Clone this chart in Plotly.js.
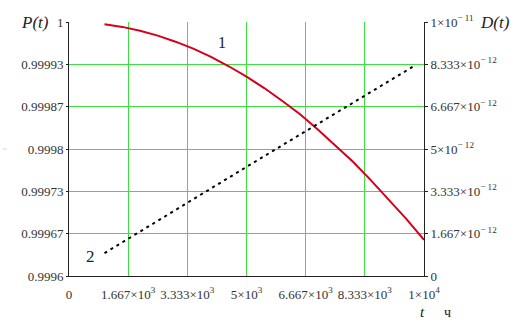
<!DOCTYPE html>
<html><head><meta charset="utf-8">
<script src="https://cdn.plot.ly/plotly-3.0.1.min.js"></script>
<style>html,body{margin:0;padding:0;background:#fff}#c{width:520px;height:324px}</style>
</head><body><div id="c"></div>
<script>
// data
var tP = [1000,1500,2000,2500,3000,3500,4000,4500,5000,5500,6000,6500,7000,7500,8000,8500,9000,9500,10000];
var P  = [0.9999966,0.9999923,0.9999862,0.9999785,0.999969,0.999958,0.999945,0.9999303,0.999914,0.999896,0.999876,0.999855,0.999831,0.999806,0.99978,0.999751,0.999721,0.99969,0.999657];
var tD = [1000,5500,9700];
var D  = [0.9e-12,4.72e-12,8.25e-12];
var xTickVals = [0,1666.67,3333.33,5000,6666.67,8333.33,10000];
var xTickText = ["0","1.667×10<sup>3</sup>","3.333×10<sup>3</sup>","5×10<sup>3</sup>","6.667×10<sup>3</sup>","8.333×10<sup>3</sup>","1×10<sup>4</sup>"];
var yTickVals = [0.9996,0.99966667,0.99973333,0.9998,0.99986667,0.99993333,1];
var yTickText = ["0.9996","0.99967","0.99973","0.9998","0.99987","0.99993","1"];
var y2TickVals = [0,1.6667e-12,3.3333e-12,5e-12,6.6667e-12,8.3333e-12,1e-11];
var y2TickText = ["0","1.667×10<sup>− 12</sup>","3.333×10<sup>− 12</sup>","5×10<sup>− 12</sup>","6.667×10<sup>− 12</sup>","8.333×10<sup>− 12</sup>","1×10<sup>− 11</sup>"];

var grid = "#3de03d";
var SERIF = "Liberation Serif";
var tf = {family:SERIF, size:13, color:"#333"};
var traces = [
  {x:tP, y:P, type:"scatter", mode:"lines", line:{color:"#d4001c", width:2}, yaxis:"y", hoverinfo:"none"},
  {x:tD, y:D, type:"scatter", mode:"lines", line:{color:"#000", width:2, dash:"3px,4px"}, yaxis:"y2", hoverinfo:"none"}
];
var layout = {
  width:520, height:324, showlegend:false,
  font:{family:SERIF, size:13, color:"#222"},
  margin:{l:69, r:96, t:22, b:48, pad:0},
  paper_bgcolor:"#fff", plot_bgcolor:"#fff",
  xaxis:{range:[0,10000], tickvals:xTickVals, ticktext:xTickText, showgrid:true, gridcolor:grid, gridwidth:1,
         zeroline:false, showline:true, linecolor:"#222", linewidth:1, ticks:"", tickfont:tf, ticklabelstandoff:6},
  yaxis:{range:[0.9996,1], tickvals:yTickVals, ticktext:yTickText, showgrid:true, gridcolor:grid, gridwidth:1,
         zeroline:false, showline:true, linecolor:"#222", linewidth:1, ticks:"outside", ticklen:2, tickcolor:"#222", tickfont:tf, ticklabelstandoff:0},
  yaxis2:{range:[0,1e-11], overlaying:"y", side:"right", tickvals:y2TickVals, ticktext:y2TickText, showgrid:false,
         zeroline:false, showline:true, linecolor:"#222", linewidth:1, ticks:"outside", ticklen:3, tickcolor:"#222", tickfont:tf, ticklabelstandoff:0},
  annotations:[
    {xref:"paper", yref:"paper", x:-0.097, y:1, xanchor:"center", yanchor:"middle", showarrow:false, text:"<i>P(t)</i>", font:{family:SERIF, size:17, color:"#222"}},
    {xref:"paper", yref:"paper", x:1.2, y:1, xanchor:"center", yanchor:"middle", showarrow:false, text:"<i>D(t)</i>", font:{family:SERIF, size:17, color:"#222"}},
    {xref:"x", yref:"y", x:4310, y:0.9999685, xanchor:"center", yanchor:"middle", showarrow:false, text:"1", font:{family:SERIF, size:16, color:"#222"}},
    {xref:"x", yref:"y", x:600, y:0.99963, xanchor:"center", yanchor:"middle", showarrow:false, text:"2", font:{family:SERIF, size:17, color:"#222"}},
    {xref:"paper", yref:"paper", x:0.997, y:-0.142, xanchor:"center", yanchor:"middle", showarrow:false, text:"<i>t</i>", font:{family:SERIF, size:15, color:"#222"}},
    {xref:"paper", yref:"paper", x:1.065, y:-0.142, xanchor:"center", yanchor:"middle", showarrow:false, text:"ч", font:{family:SERIF, size:14, color:"#222"}},
    {xref:"paper", yref:"paper", x:-0.183, y:0.5, xanchor:"center", yanchor:"middle", showarrow:false, text:"=", font:{family:SERIF, size:9, color:"#ddd"}}
  ]
};
Plotly.newPlot("c", traces, layout, {staticPlot:true, displayModeBar:false});
</script></body></html>
